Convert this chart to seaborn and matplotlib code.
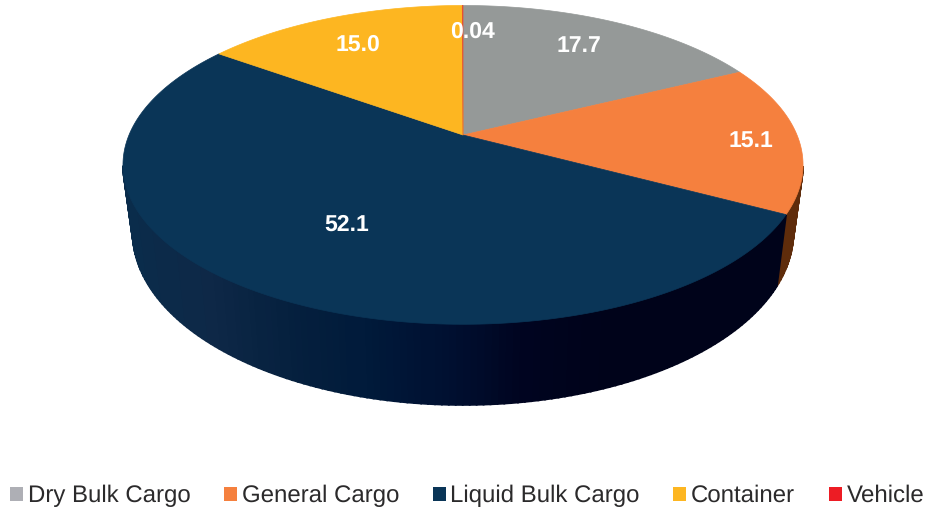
import matplotlib.pyplot as plt
import seaborn as sns
import numpy as np
from matplotlib.patches import Patch

categories = ["Dry Bulk Cargo", "General Cargo", "Liquid Bulk Cargo", "Container", "Vehicle"]
shares = [17.7, 15.1, 52.1, 15.0, 0.04]
share_labels = ["17.7", "15.1", "52.1", "15.0", "0.04"]

top_colors = ["#959998", "#f5803e", "#0a3557", "#fdb621", "#e8502f"]
legend_colors = ["#aeafb5", "#f5803e", "#0a3557", "#fdb621", "#ed1c24"]

sns.set_theme(style="white")
plt.rcParams["font.family"] = ["Liberation Sans", "DejaVu Sans"]
plt.rcParams["text.hinting"] = "no_hinting"
plt.rcParams["text.hinting_factor"] = 1

# wall colours, left to right
navy_wall = sns.blend_palette(["#0a2c4b", "#0e2847", "#05203e", "#001a3a", "#000f30", "#00041f", "#00031a"], 64)
wall_colors = {"General Cargo": ["#5f2c0b"], "Liquid Bulk Cargo": navy_wall}

# where the labels sit, in pixels
label_xy = [(579, 46), (751, 142), (347, 225), (358, 45), (472, 32)]

# perspective of the tilted disc
PERSP = 0.1875


def project(theta, a, b, cx, cy):
    d = 1 + PERSP * np.cos(theta)
    return cx + a * np.sin(theta) / d, cy - b * np.cos(theta) / d


def top_rim(theta):
    return project(theta, 334, 153.8, 463, 135)


def bottom_rim(theta):
    return project(theta, 324.5, 166.5, 463, 200)


fig, ax = plt.subplots(figsize=(9.27, 5.13), dpi=100)
fig.subplots_adjust(0, 0, 1, 1)
ax.set_xlim(0, 927)
ax.set_ylim(513, 0)
ax.axis("off")

edges = np.cumsum([0] + shares) / sum(shares) * 2 * np.pi

# side wall first, top disc hides the back of it
for i, name in enumerate(categories):
    if name not in wall_colors:
        continue
    pal = wall_colors[name]
    angles = np.linspace(edges[i], edges[i + 1], int(np.degrees(edges[i + 1] - edges[i])) + 2)
    for t0, t1 in zip(angles[:-1], angles[1:]):
        x0, y0 = top_rim(t0)
        x1, y1 = top_rim(t1)
        x2, y2 = bottom_rim(t1)
        x3, y3 = bottom_rim(t0)
        # back of the rim is never seen
        if min(y0, y1) < 165:
            continue
        k = int(np.clip((min(x2, x3) - 130) / 470, 0, 1) * (len(pal) - 1))
        ax.fill([x0, x1, x2, x3], [y0, y1, y2, y3], color=pal[k], lw=1.3)

# top of the pie
for i, name in enumerate(categories):
    angles = np.linspace(edges[i], edges[i + 1], 200)
    xs, ys = top_rim(angles)
    ax.fill(np.r_[463, xs], np.r_[135, ys], color=top_colors[i], lw=0.5)

for text, (x, y) in zip(share_labels, label_xy):
    ax.text(x, y, text, color="white", fontsize=16.4, fontweight="bold", ha="center", va="center")

handles = [Patch(facecolor=c, edgecolor="none", linewidth=0, label=n) for c, n in zip(legend_colors, categories)]
ax.legend(handles=handles, loc="center", bbox_to_anchor=(467, 496), bbox_transform=ax.transData,
          ncol=5, frameon=False, fontsize=17.2, labelcolor="#2b2a2b", handlelength=0.55, handleheight=0.55,
          handletextpad=0.2, columnspacing=1.4, borderpad=0, borderaxespad=0)

plt.savefig("out.png", dpi=100)
